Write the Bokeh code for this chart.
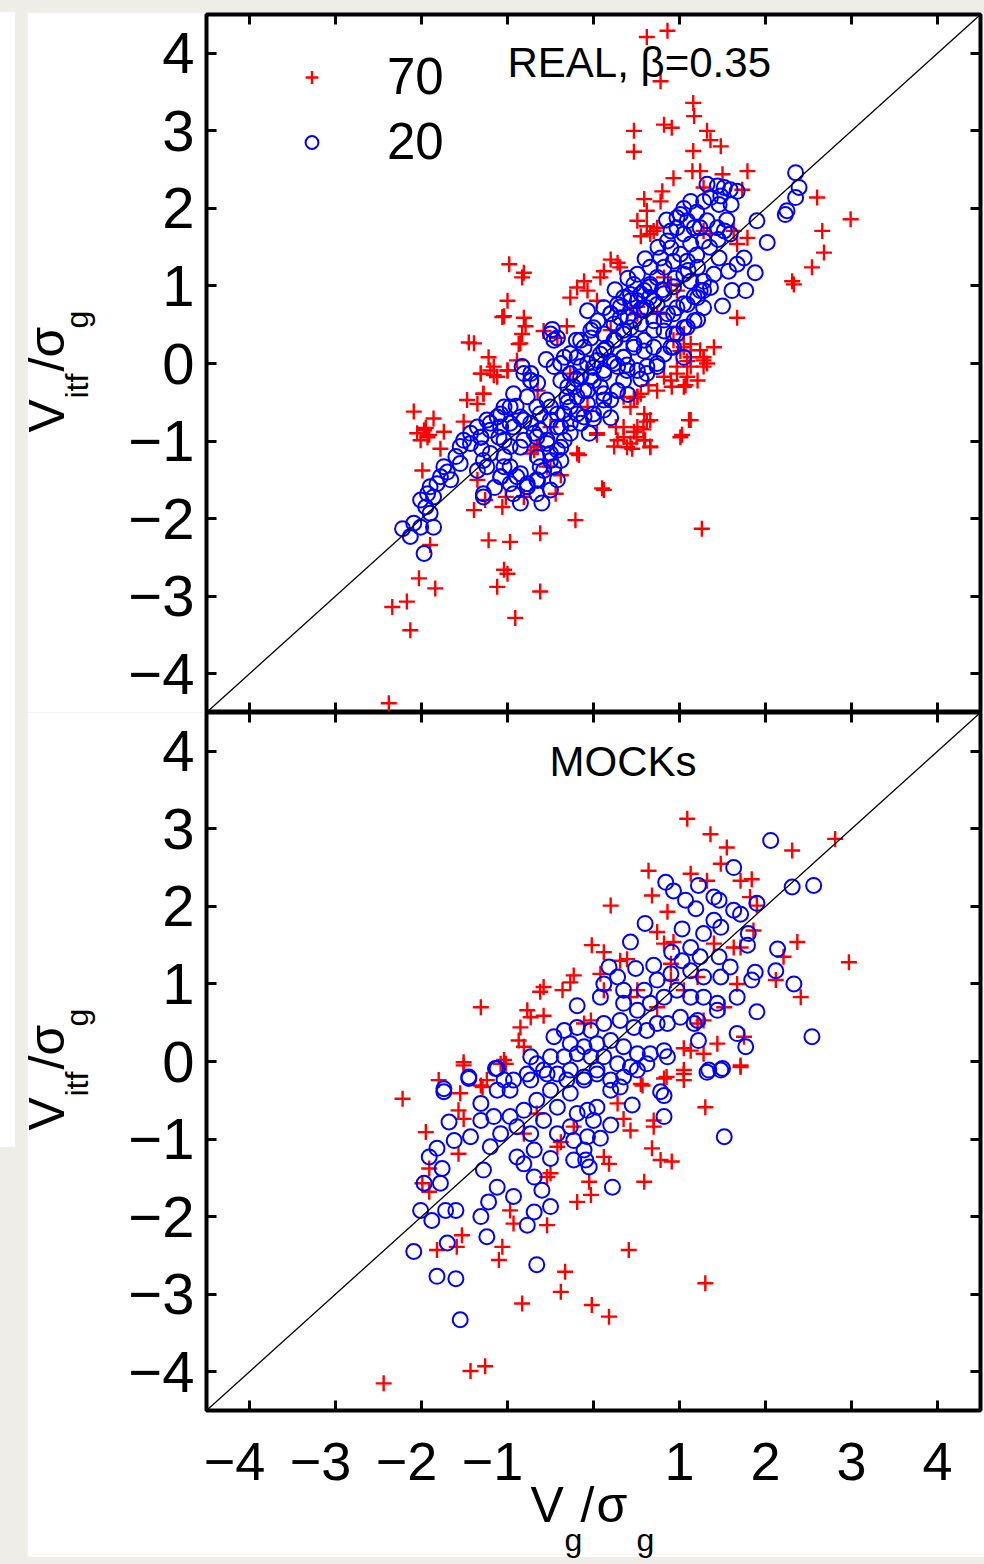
import math
from bokeh.plotting import figure
from bokeh.models import (LinearAxis, FixedTicker, Label, Slope, Legend, LegendItem,
                          ColumnDataSource, Spacer)
from bokeh.layouts import column, row
from bokeh.embed import file_html
from bokeh.resources import INLINE

# ---------------- data ----------------
TICKS = [-4, -3, -2, -1, 0, 1, 2, 3, 4]
SERIES_LABELS = ["70", "20"]
PANEL_TITLES = ["REAL, \u03b2=0.35", "MOCKs"]

real70 = [(0.62,4.21),(0.86,4.29),(0.78,3.64),(1.16,3.36),(1.17,3.19),(0.47,3.00),(0.82,3.08),(0.91,3.04),
(1.32,3.00),(1.36,2.88),(1.48,2.80),(0.47,2.73),(1.16,2.74),(1.15,2.48),(1.24,2.48),(1.50,2.44),(1.79,2.48),
(0.93,2.39),(0.80,2.22),(1.28,2.27),(0.59,2.12),(0.62,1.97),(0.78,2.09),(1.73,2.24),(2.60,2.14),(2.99,1.86),
(2.66,1.71),(2.68,1.43),(2.54,1.24),(2.31,1.06),(2.33,1.02),(0.51,1.84),(0.62,1.77),(0.70,1.71),(0.66,1.67),
(0.55,1.64),(0.74,1.75),(1.63,1.71),(1.67,1.54),(1.79,1.62),(0.20,1.34),(0.28,1.30),(0.12,1.19),(0.31,1.24),
(0.08,1.11),(-0.98,1.28),(-0.81,1.17),(-0.83,1.11),(-0.11,1.06),(-0.19,0.98),(-0.07,0.94),(-0.27,0.85),
(0.04,0.81),(-1.00,0.81),(-1.04,0.61),(-0.81,0.59),(-0.79,0.48),(-0.83,0.38),(-0.87,0.25),(-1.45,0.27),
(-1.22,0.08),(1.67,0.59),(1.40,0.21),(1.28,0.08),(1.05,0.38),(1.13,0.25),(1.01,0.16),(1.09,0.03),(-0.58,0.42),
(-0.42,0.33),(-0.31,0.48),(0.82,1.11),(0.90,1.02),(0.97,0.94),(0.43,0.72),(0.51,0.64),(1.28,1.71),(1.36,1.67),
(-1.31,-0.13),(-1.16,-0.15),(-1.00,-0.09),(-1.16,-0.04),(-1.47,-0.47),(-1.28,-0.39),(-2.09,-0.62),(-1.86,-0.71),
(-1.97,-0.86),(-1.91,-0.92),(-2.01,-0.99),(-1.74,-0.88),(-1.78,-1.10),(-1.51,-0.75),(-1.99,-1.38),(-1.35,-1.50),
(-1.39,-1.89),(-1.26,-1.76),(-1.06,-1.85),(-1.02,-1.72),(-1.90,-2.34),(-1.22,-2.28),(-0.97,-2.30),(-0.62,-2.19),
(-0.21,-2.02),(0.10,-1.61),(-0.17,-1.18),(0.04,-0.92),(-0.69,-1.12),(-0.66,-1.07),(-0.50,-1.33),(-0.38,-1.44),
(-0.44,-1.68),(-0.81,-1.72),(-2.03,-2.77),(-1.84,-2.90),(-2.34,-3.14),(-2.17,-3.07),(-2.13,-3.44),(-1.12,-2.88),
(-1.04,-2.66),(-1.00,-2.71),(-0.62,-2.94),(-0.91,-3.28),(-2.38,-4.38),(1.26,-2.13),(0.26,-0.82),(0.35,-0.95),
(0.47,-0.88),(0.43,-1.03),(0.24,-1.07),(0.62,-0.75),(0.60,-0.99),(0.66,-1.07),(0.47,-0.45),(0.51,-0.43),
(0.35,-0.43),(1.13,-0.73),(1.03,-0.92),(0.91,-0.30),(1.07,-0.28),(0.97,-0.13),(1.13,-0.04),(1.32,0.00),
(0.82,-0.17),(0.64,-0.28),(0.55,-0.39),(-1.95,-0.83),(-2.05,-0.90),(-1.93,-0.95),(0.50,-0.95),(0.58,-0.85),
(0.45,-1.10),
(0.93,0.30),(1.05,0.21),(1.13,0.08),(1.24,0.17),(1.28,-0.04),(0.97,-0.04),(1.09,-0.17),(0.90,-0.22),(1.05,-0.30),
(1.21,-0.22),(1.28,0.04),(0.74,-0.35),(0.51,-0.43),(0.43,-0.56),(0.59,-0.65),(0.66,-0.73),(0.51,-0.82),(0.35,-0.82),
(0.28,-0.99),(0.39,-1.08),(0.59,-0.99),(0.66,-1.08),(1.01,-0.95),(1.11,-0.73),(0.12,-1.63),(0.04,-0.90),
(-0.19,-1.16),(-1.31,-0.13),(-1.20,-0.09),(-1.12,-0.17),(-1.28,-0.39),(-1.35,-0.52),(-1.00,-0.09),(-0.89,0.04),
(-0.85,0.26),(-1.06,0.60),(-1.39,0.26),(-0.65,-1.08),(-0.54,-1.33),(-0.65,-0.35),(-0.27,-0.13),(0.20,0.43),
(0.51,0.73),(0.74,0.64),(-0.07,-0.56),(-0.50,-0.82),(-0.73,-1.16)]

real20 = [(2.35,2.46),(2.39,2.27),(2.35,2.14),(2.25,1.97),(2.23,1.92),(1.90,1.84),(2.02,1.56),(1.88,1.17),
(1.75,1.36),(1.67,1.28),(1.77,0.94),(1.61,0.94),(1.50,0.74),(1.57,1.19),(1.46,1.36),(1.40,1.15),(1.32,2.31),
(1.44,2.29),(1.52,2.27),(1.59,2.24),(1.67,2.22),(1.48,2.16),(1.36,2.14),(1.28,2.09),(1.46,2.05),(1.13,2.09),
(1.01,1.92),(0.97,1.88),(1.09,1.84),(1.17,1.75),(1.05,1.67),(1.24,1.75),(1.32,1.84),(1.44,1.75),(1.52,1.71),
(1.59,1.67),(1.28,1.58),(1.13,1.54),(1.01,1.41),(0.90,1.49),(0.93,1.32),(1.09,1.32),(1.21,1.24),(1.28,1.06),
(1.36,0.98),(1.24,0.94),(1.13,1.06),(1.05,1.15),(0.82,1.24),(0.74,1.11),(0.66,1.02),(0.59,0.94),(0.47,1.02),
(0.43,0.89),(0.51,0.81),(0.62,0.72),(0.74,0.76),(0.86,0.64),(0.97,0.72),(1.09,0.76),(1.21,0.85),(1.28,0.72),
(1.17,0.55),(1.05,0.46),(0.93,0.38),(0.82,0.42),(0.70,0.55),(0.55,0.51),(0.43,0.46),(0.31,0.59),(0.20,0.64),
(0.24,0.51),(0.35,0.38),(0.47,0.25),(0.59,0.16),(0.70,0.21),(0.82,0.12),(0.93,0.21),(1.05,0.08),(0.12,0.38),
(0.00,0.46),(-0.03,0.33),(-0.11,0.21),(-0.19,0.08),(0.08,0.12),(0.20,0.03),(0.35,0.08),(-0.34,0.08),(-0.48,0.44),
(-0.42,0.33),(-0.07,0.68),(0.12,0.72),(0.28,0.76),(0.35,0.85),(0.51,1.15),(0.66,1.24),(0.78,1.36),(0.86,1.58),
(0.90,1.71),(0.97,1.75),
(-0.83,-0.04),(-0.73,-0.13),(-0.73,-0.22),(-0.46,-0.04),(-0.38,-0.22),(-0.27,-0.13),(-0.15,-0.04),(-0.03,-0.17),
(0.12,-0.09),(0.28,-0.04),(0.39,-0.02),(0.51,-0.09),(0.62,-0.04),(0.74,0.00),(0.08,-0.30),(-0.07,-0.35),
(-0.19,-0.43),(-0.27,-0.56),(-0.42,-0.65),(-0.54,-0.47),(-0.66,-0.56),(-0.77,-0.43),(-0.93,-0.39),(-1.04,-0.56),
(-1.12,-0.69),(-1.24,-0.73),(-1.35,-0.82),(-1.43,-0.90),(-1.51,-0.99),(-1.55,-1.07),(-1.43,-1.03),(-1.31,-0.95),
(-1.20,-0.86),(-1.08,-0.82),(-0.97,-0.77),(-0.85,-0.69),(-0.73,-0.77),(-0.62,-0.86),(-0.50,-0.73),(-0.38,-0.82),
(-0.27,-0.77),(-0.11,-0.69),(0.00,-0.71),(0.12,-0.60),(0.20,-0.47),(0.28,-0.35),(0.35,-0.22),(0.12,-0.39),
(-0.07,-0.52),(-0.19,-0.65),(-0.34,-0.99),(-0.42,-1.12),(-0.50,-1.25),(-0.58,-1.38),(-0.66,-1.50),(-0.77,-1.59),
(-0.89,-1.46),(-0.97,-1.33),(-1.04,-1.20),(-0.97,-1.07),(-0.81,-0.99),(-0.66,-0.95),(-0.54,-1.03),(-0.38,-1.25),
(-0.42,-1.50),(-0.50,-1.63),(-0.66,-1.68),(-0.77,-1.55),(-0.93,-1.68),(-1.08,-1.46),(-1.28,-1.72),(-1.28,-1.25),
(-1.24,-1.33),(-1.35,-1.38),(-1.55,-1.29),(-1.74,-1.33),(-1.78,-1.46),(-1.90,-1.59),(-1.93,-1.68),(-2.01,-1.76),
(-1.86,-1.72),(-1.66,-1.50),(-1.82,-1.55),(-1.95,-1.85),(-1.90,-1.93),(-1.86,-2.11),(-2.01,-2.11),(-2.09,-2.06),
(-2.22,-2.13),(-2.13,-2.23),(-1.97,-2.45),
(-0.30,-0.30),(-0.20,-0.20),(0.00,-0.05),(0.15,0.20),(0.25,0.30),(0.40,0.60),(0.55,0.70),(0.65,0.85),
(0.80,0.95),(0.95,1.10),(1.10,1.20),(1.20,1.40),(1.35,1.50),(1.45,1.60),(1.55,1.85),(1.60,2.05),(1.20,1.95),
(1.05,2.00),(0.85,1.85),(0.75,1.50),(0.60,1.35),(0.40,1.10),(0.25,0.95),(0.05,0.55),(-0.20,0.30),(-0.55,0.05),
(-0.65,-0.25),(-0.90,-0.55),(-1.10,-0.95),(-1.30,-1.10),(-1.60,-1.20),(-1.70,-1.40),(-1.15,-1.60),(-0.85,-1.80),
(-0.60,-1.80),(-0.30,-0.50),(-0.05,-0.90),(0.20,-0.70),(0.40,-0.40),(0.55,-0.20),
(-1.31,-0.95),(-1.20,-0.77),(-1.08,-0.65),(-0.97,-0.56),(-1.20,-1.16),(-1.04,-0.99),(-0.93,-0.82),(-0.81,-0.73),
(-0.85,-1.08),(-0.69,-0.90),(-0.62,-0.65),(-0.50,-0.56),(-0.65,-1.21),(-0.54,-0.99),(-0.42,-0.82),(-0.34,-0.65),
(-0.46,-1.33),(-0.65,-1.51),(-0.85,-1.42),(-1.04,-1.33),(-0.31,-0.43),(-0.23,-0.30),(-0.15,-0.17),(-0.07,0.00),
(0.04,0.04),(0.12,0.17),(0.24,0.30),(0.35,0.43),(0.47,0.56),(0.59,0.69),(0.70,0.81),(0.82,0.90),(0.93,0.99),
(-0.11,-0.35),(0.00,-0.22),(0.12,-0.13),(0.24,0.00),(0.35,0.08),(0.47,0.21),(0.59,0.30),(0.70,0.43),(0.82,0.56),
(0.93,0.64),(1.05,0.77),(1.17,0.86),(1.28,0.94),(-0.38,0.00),(-0.27,0.13),(-0.15,0.30),(-0.03,0.43),(-0.50,0.38),
(-0.46,0.30),(0.20,0.64),(0.31,0.73),(0.43,0.81),(0.55,0.90),(0.66,0.99),(0.97,0.38),(1.09,0.47),(1.21,0.56),
(0.90,0.21),(0.74,-0.04),(0.62,-0.13),(0.39,-0.09),(0.28,-0.35),(0.12,-0.47),(0.00,-0.65),(-0.15,-0.77),
(-0.27,-0.90),(-0.38,-1.08),(-0.50,-1.16),(-0.62,-1.33),(-0.77,-1.59),(-0.97,-1.55),(-1.08,-1.46),(-1.28,-1.68),
(-0.73,-0.22),(-0.81,-0.13)]

mock70 = [(1.09,3.13),(1.36,2.93),(1.55,2.76),(2.31,2.72),(2.81,2.87),(1.48,2.55),(0.64,2.46),(1.13,2.42),
(1.32,2.33),(1.71,2.33),(1.84,2.35),(0.68,2.14),(0.86,1.93),(0.20,2.01),(1.82,2.12),(1.90,2.01),(2.37,1.54),
(2.21,1.35),(2.97,1.28),(2.41,0.83),(2.12,1.05),(0.74,1.67),(-0.02,1.50),(0.12,1.41),(0.82,1.52),(0.93,1.54),
(0.31,1.30),(0.39,1.32),(0.08,1.13),(-0.23,1.11),(-0.27,1.02),(-0.58,0.96),(-0.62,0.90),(-0.36,0.92),(-1.31,0.70),
(-0.77,0.66),(-0.73,0.57),(-0.58,0.59),(-0.85,0.44),(-0.87,0.27),(-0.81,0.19),(-1.51,-0.01),(-1.04,0.02),
(-1.08,-0.03),(-1.80,-0.24),(-1.31,-0.31),(-1.24,-0.24),(-0.03,0.53),(-0.11,0.49),(0.51,0.92),(0.43,0.83),
(0.12,0.92),(1.44,0.23),(1.13,0.14),(1.05,0.17),(1.28,0.10),(1.71,-0.05),(1.05,-0.16),(0.82,-0.22),(0.55,-0.29),
(1.75,0.32),(1.67,1.00),(1.52,0.70),(1.28,0.53),(1.21,0.49),(0.74,0.70),(0.90,1.26),(1.71,1.47),(1.86,1.69),
(1.63,1.47),(1.40,1.52),(1.05,0.92),(0.90,1.05),(1.21,1.09),
(-1.51,-0.05),(-1.02,-0.03),(-2.22,-0.48),(-1.55,-0.41),(-1.29,-0.33),(-1.95,-0.91),(-1.57,-0.63),(-1.51,-0.74),
(-1.57,-1.19),(-1.91,-1.38),(-1.99,-1.57),(-1.91,-1.68),(-1.53,-2.24),(-1.82,-2.43),(-1.59,-2.39),(-1.06,-2.39),
(-1.10,-2.56),(-0.93,-2.09),(-0.97,-1.92),(-0.54,-2.11),(-0.33,-2.71),(-0.38,-2.97),(-0.83,-3.12),(-0.02,-3.14),
(0.18,-3.29),(0.41,-2.43),(1.30,-2.86),(-0.19,-1.81),(-0.03,-1.72),(-0.05,-1.55),(0.59,-1.55),(0.68,-1.12),
(0.78,-1.27),(0.91,-1.29),(0.18,-1.32),(0.12,-1.23),(-0.38,-1.04),(-0.42,-1.10),(-0.50,-1.44),(-0.54,-1.49),
(0.43,-0.89),(0.70,-0.84),(0.70,-0.76),(0.28,-0.54),(0.35,-0.74),(0.85,-0.20),(1.05,-0.11),(1.05,-0.24),
(0.57,-0.31),(1.30,-0.59),(1.71,-0.07),(-0.66,-0.67),(-0.81,-0.93),(-2.44,-4.15),(-1.43,-3.99),(-1.26,-3.93),
(-0.23,-0.84)]

mock20 = [(2.06,2.85),(1.63,2.50),(2.31,2.25),(2.56,2.27),(0.84,2.31),(0.93,2.20),(1.22,2.27),(1.07,2.08),
(1.19,1.97),(1.40,2.12),(1.46,2.08),(1.90,2.04),(1.63,1.95),(1.71,1.90),(0.60,1.78),(1.03,1.71),(0.43,1.54),
(1.40,1.82),(1.48,1.73),(1.28,1.65),(1.80,1.65),(1.79,1.50),(2.14,1.45),(2.12,1.17),(2.33,1.00),(1.88,1.15),
(1.84,1.05),(1.67,0.83),(1.90,0.64),(2.54,0.32),(1.67,0.36),(1.77,0.19),(1.22,0.27),(1.34,-0.11),(1.50,-0.09),
(0.18,1.22),(0.49,1.20),(0.70,1.24),(0.91,1.41),(1.03,1.30),(1.13,1.47),(1.24,1.35),(1.46,1.35),(1.59,1.22),
(1.48,1.09),(1.28,1.09),(1.13,1.17),(0.90,1.13),(0.74,1.05),(0.59,0.92),(0.35,0.92),(0.28,1.09),(0.12,1.00),
(0.08,0.83),(-0.19,0.72),(0.35,0.75),(0.51,0.66),(0.66,0.75),(0.82,0.83),(0.97,0.92),(1.13,0.83),(1.28,0.83),
(1.44,0.75),(1.44,0.66),(1.21,0.53),(1.17,0.49),(1.01,0.57),(0.86,0.49),(0.74,0.49),(0.62,0.40),(0.47,0.44),
(0.31,0.53),(0.12,0.49),(-0.03,0.40),(-0.19,0.44),(-0.34,0.40),(-0.46,0.32),(-0.27,0.23),(-0.11,0.19),(0.04,0.23),
(0.20,0.27),(0.35,0.19),(0.51,0.10),(0.66,0.10),(0.82,0.14),(0.86,0.06),(0.62,-0.03),(0.43,-0.07),(0.28,-0.03),
(0.12,0.06),(-0.03,0.06),(-0.19,0.10),(-0.34,0.06),(-0.50,0.06),(-0.66,-0.03),(-0.73,0.06),(-0.58,-0.11),
(-0.42,-0.16),(-0.27,-0.11),(-0.11,-0.20),(0.04,-0.16),(0.20,-0.24),(0.35,-0.20),(0.51,-0.11),(-1.12,-0.09),
(-1.45,-0.20),(-1.04,-0.24),(-1.74,-0.35),(-0.73,-0.24),
(-1.14,-0.09),(-1.45,-0.22),(-0.97,-0.37),(-1.74,-0.39),(-1.31,-0.54),(-1.68,-0.78),(-1.31,-0.76),(-1.16,-0.71),
(-1.43,-0.97),(-1.62,-1.02),(-1.82,-1.12),(-1.91,-1.23),(-1.76,-1.38),(-1.97,-1.57),(-1.78,-1.57),(-2.01,-1.92),
(-1.72,-1.92),(-1.60,-1.92),(-1.88,-2.05),(-1.31,-2.00),(-1.22,-1.81),(-0.93,-1.74),(-0.77,-2.11),(-0.69,-1.94),
(-0.50,-1.87),(-0.60,-1.66),(-0.69,-1.49),(-0.81,-1.32),(-0.89,-1.23),(-0.69,-1.14),(-0.50,-1.25),(-0.23,-1.27),
(-0.09,-1.27),(-0.05,-1.36),(-0.23,-1.02),(-0.07,-0.97),(0.08,-0.99),(-0.11,-1.14),(0.00,-0.76),(0.20,-0.82),
(0.04,-0.59),(-0.07,-0.63),(0.20,-0.37),(0.31,-0.33),(0.45,-0.56),(0.82,-0.44),(0.82,-0.71),(0.78,-0.39),
(1.32,-0.14),(1.48,-0.11),(1.52,-0.97),(0.22,-1.62),(-1.28,-1.40),(-1.12,-1.62),(-1.24,-2.26),(-1.70,-2.34),
(-2.09,-2.45),(-1.82,-2.77),(-1.60,-2.80),(-0.66,-2.62),(-1.55,-3.33),(-0.89,-0.84),(-0.73,-0.93),(-0.58,-0.76),
(-0.42,-0.59),(-0.27,-0.41),(-0.11,-0.24),(0.04,-0.11),(-0.50,-0.37),(-0.66,-0.50),(-0.81,-0.63),(-0.97,-0.71),
(-1.08,-0.93),(-1.20,-1.10),(-0.42,-0.93),(-0.19,-0.67),(-0.31,-0.24),(-0.54,-0.16),(-0.77,-0.16),(-0.93,-0.24),
(-1.12,-0.37),(-0.27,-0.84)]

FONT = "Liberation Sans"
RED = "#ff0000"
BLUE = "#0000ff"
BG = "#efede8"


def src(pts):
    return ColumnDataSource(dict(x=[p[0] for p in pts], y=[p[1] for p in pts]))


def make_panel(height, border_top, border_bottom, bottom_labels):
    p = figure(width=957, height=height, x_range=(-4.5, 4.5), y_range=(-4.5, 4.5),
               output_backend="svg", toolbar_location=None,
               x_axis_location=None, y_axis_location=None,
               min_border_left=179, min_border_right=4,
               min_border_top=border_top, min_border_bottom=border_bottom,
               background_fill_color="white", border_fill_color="white")
    p.outline_line_color = "black"
    p.outline_line_width = 4
    for side in ["left", "right", "above", "below"]:
        ax = LinearAxis(ticker=FixedTicker(ticks=TICKS))
        ax.axis_line_color = None
        ax.major_tick_in = 10
        ax.major_tick_out = 0
        ax.major_tick_line_width = 3
        ax.major_tick_line_color = "black"
        ax.minor_tick_line_color = None
        if side == "left":
            ax.major_label_text_font = FONT
            ax.major_label_text_font_size = "58px"
            ax.major_label_text_color = "black"
            ax.major_label_standoff = 12
            ax.major_label_overrides = {t: (("\u2212%d" % -t) if t < 0 else str(t)) for t in TICKS}
        elif side == "below" and bottom_labels:
            ax.major_label_text_font = FONT
            ax.major_label_text_font_size = "54px"
            ax.major_label_text_color = "black"
            ax.major_label_standoff = 20
            ax.major_label_overrides = {t: (("\u2212%d\u2007" % -t) if t < 0 else ("" if t == 0 else str(t)))
                                        for t in TICKS}
        else:
            ax.major_label_text_font_size = "1px"
            ax.major_label_standoff = 0
            ax.axis_label_standoff = 0
            ax.major_label_overrides = {t: "" for t in TICKS}
        p.add_layout(ax, side)
    p.grid.grid_line_color = None
    p.add_layout(Slope(gradient=1, y_intercept=0, line_color="black", line_width=1.3))
    return p


def overlay_canvas(width, height, x0, y0):
    # transparent canvas in page-pixel coordinates, laid over the panel margins, holding the axis titles
    f = figure(width=width, height=height, x_range=(x0, x0 + width), y_range=(y0 + height, y0),
               output_backend="svg", toolbar_location=None,
               x_axis_location=None, y_axis_location=None,
               min_border=0, min_border_left=0, min_border_right=0,
               min_border_top=0, min_border_bottom=0)
    f.outline_line_color = None
    f.grid.grid_line_color = None
    f.border_fill_alpha = 0
    f.background_fill_alpha = 0
    return f


def add_pieces(f, pieces, angle=0.0):
    for t, x, y, fs in pieces:
        f.add_layout(Label(x=x, y=y, text=t, angle=angle, text_font=FONT, text_font_size=fs,
                           text_align="left", text_baseline="alphabetic", text_color="black"))


BIG, SMALL = "50px", "32px"


def ylabel_pieces(dy):
    return [("V", 46.5, 432 + dy, BIG), ("itf", 76, 398 + dy, SMALL),
            ("/", 46.5, 371 + dy, BIG), ("\u03c3", 46.5, 357 + dy, BIG), ("g", 76, 328 + dy, SMALL)]


# ---------------- top panel ----------------
p1 = make_panel(700, 2, 0, False)
r70 = p1.scatter("x", "y", source=src(real70), marker="cross", size=16, line_color=RED, line_width=2.4)
r20 = p1.scatter("x", "y", source=src(real20), marker="circle", size=15, fill_color=None,
                 line_color=BLUE, line_width=2)
p1.add_layout(Label(x=-1.0, y=3.88, text=PANEL_TITLES[0], text_font=FONT, text_font_size="42px",
                    text_align="left", text_baseline="alphabetic", text_color="black"))
leg = Legend(items=[LegendItem(label=SERIES_LABELS[0], renderers=[r70]),
                    LegendItem(label=SERIES_LABELS[1], renderers=[r20])],
             location="top_left", margin=33, padding=34, spacing=6,
             glyph_width=145, glyph_height=32, label_height=32, label_standoff=3,
             label_text_font=FONT, label_text_font_size="51px", label_text_color="black",
             border_line_color=None, background_fill_alpha=0)
p1.add_layout(leg)

# ---------------- bottom panel ----------------
p2 = make_panel(845, 0, 147, True)
p2.scatter("x", "y", source=src(mock70), marker="cross", size=16, line_color=RED, line_width=2.4)
p2.scatter("x", "y", source=src(mock20), marker="circle", size=15, fill_color=None,
           line_color=BLUE, line_width=2)
p2.add_layout(Label(x=0.343, y=3.87, text=PANEL_TITLES[1], text_font=FONT, text_font_size="42px",
                    text_align="center", text_baseline="alphabetic", text_color="black"))

# ---------------- axis titles (composed with sub-scripts) ----------------
xlab = overlay_canvas(957, 98, 27, 1466)
add_pieces(xlab, [("V", 530, 1504.5, BIG), ("g", 564, 1539, SMALL), ("/", 580, 1504.5, BIG),
                  ("\u03c3", 596, 1504.5, BIG), ("g", 636, 1539, SMALL)])

ylab = overlay_canvas(95, 1545, 15, 12)
add_pieces(ylab, ylabel_pieces(0), angle=math.pi / 2)
add_pieces(ylab, ylabel_pieces(698), angle=math.pi / 2)

strip = Spacer(width=15, height=1135, margin=(12, 0, 0, 0), styles={"background-color": "white"})
col = column(row(p1, margin=(12, 0, 0, 12)),
             row(p2, margin=(0, 0, 0, 12)),
             row(xlab, margin=(-91, 0, 0, 12)),
             row(ylab, margin=(-1552, 0, 7, 0)))
root = row(strip, col, styles={"background-color": BG})

open("out.html", "w").write(file_html(root, INLINE))
